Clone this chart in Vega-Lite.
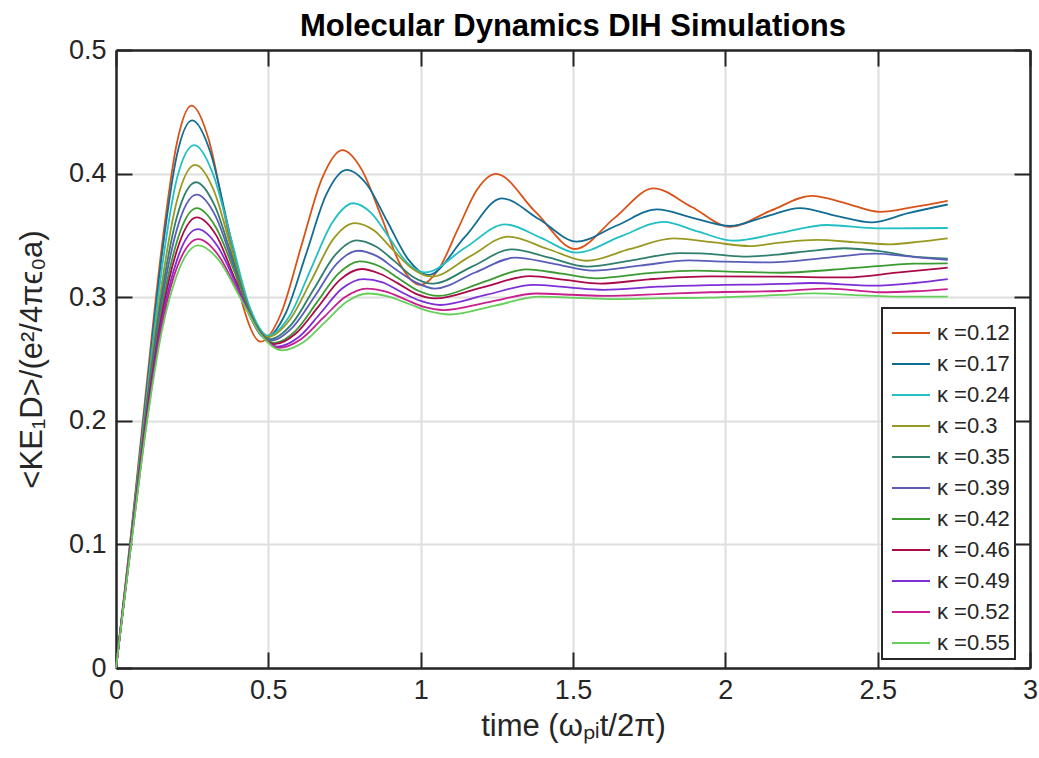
{
"$schema": "https://vega.github.io/schema/vega-lite/v6.json",
"width": 914, "height": 618,
"autosize": {"type": "none"},
"padding": {"left": 116, "top": 50, "right": 9, "bottom": 90},
"background": "#ffffff",
"title": {"text": "Molecular Dynamics DIH Simulations", "font": "Liberation Sans", "fontSize": 31, "fontWeight": "bold", "color": "#000000", "anchor": "middle", "frame": "group", "offset": -7},
"data": {"values": [
{"s":"κ =0.12","t":0,"v":0},{"s":"κ =0.12","t":0.05,"v":0.11},{"s":"κ =0.12","t":0.1,"v":0.228},{"s":"κ =0.12","t":0.15,"v":0.34},{"s":"κ =0.12","t":0.2,"v":0.425},{"s":"κ =0.12","t":0.248,"v":0.455},{"s":"κ =0.12","t":0.305,"v":0.427},{"s":"κ =0.12","t":0.362,"v":0.36},{"s":"κ =0.12","t":0.418,"v":0.292},{"s":"κ =0.12","t":0.475,"v":0.264},{"s":"κ =0.12","t":0.542,"v":0.287},{"s":"κ =0.12","t":0.609,"v":0.342},{"s":"κ =0.12","t":0.676,"v":0.396},{"s":"κ =0.12","t":0.743,"v":0.419},{"s":"κ =0.12","t":0.807,"v":0.403},{"s":"κ =0.12","t":0.871,"v":0.365},{"s":"κ =0.12","t":0.934,"v":0.326},{"s":"κ =0.12","t":0.998,"v":0.31},{"s":"κ =0.12","t":1.06,"v":0.323},{"s":"κ =0.12","t":1.122,"v":0.355},{"s":"κ =0.12","t":1.185,"v":0.387},{"s":"κ =0.12","t":1.247,"v":0.3997},{"s":"κ =0.12","t":1.377,"v":0.369},{"s":"κ =0.12","t":1.507,"v":0.339},{"s":"κ =0.12","t":1.636,"v":0.364},{"s":"κ =0.12","t":1.764,"v":0.388},{"s":"κ =0.12","t":1.89,"v":0.373},{"s":"κ =0.12","t":2.015,"v":0.357},{"s":"κ =0.12","t":2.149,"v":0.37},{"s":"κ =0.12","t":2.283,"v":0.382},{"s":"κ =0.12","t":2.395,"v":0.376},{"s":"κ =0.12","t":2.507,"v":0.369},{"s":"κ =0.12","t":2.62,"v":0.373},{"s":"κ =0.12","t":2.73,"v":0.378},
{"s":"κ =0.17","t":0,"v":0},{"s":"κ =0.17","t":0.05,"v":0.108},{"s":"κ =0.17","t":0.1,"v":0.222},{"s":"κ =0.17","t":0.15,"v":0.333},{"s":"κ =0.17","t":0.2,"v":0.415},{"s":"κ =0.17","t":0.25,"v":0.443},{"s":"κ =0.17","t":0.31,"v":0.417},{"s":"κ =0.17","t":0.37,"v":0.355},{"s":"κ =0.17","t":0.43,"v":0.293},{"s":"κ =0.17","t":0.49,"v":0.267},{"s":"κ =0.17","t":0.557,"v":0.287},{"s":"κ =0.17","t":0.624,"v":0.335},{"s":"κ =0.17","t":0.69,"v":0.383},{"s":"κ =0.17","t":0.757,"v":0.403},{"s":"κ =0.17","t":0.824,"v":0.391},{"s":"κ =0.17","t":0.891,"v":0.361},{"s":"κ =0.17","t":0.958,"v":0.331},{"s":"κ =0.17","t":1.025,"v":0.318},{"s":"κ =0.17","t":1.146,"v":0.349},{"s":"κ =0.17","t":1.266,"v":0.38},{"s":"κ =0.17","t":1.389,"v":0.363},{"s":"κ =0.17","t":1.512,"v":0.345},{"s":"κ =0.17","t":1.644,"v":0.358},{"s":"κ =0.17","t":1.775,"v":0.371},{"s":"κ =0.17","t":1.895,"v":0.364},{"s":"κ =0.17","t":2.015,"v":0.3576},{"s":"κ =0.17","t":2.13,"v":0.365},{"s":"κ =0.17","t":2.245,"v":0.372},{"s":"κ =0.17","t":2.36,"v":0.366},{"s":"κ =0.17","t":2.48,"v":0.3605},{"s":"κ =0.17","t":2.6,"v":0.368},{"s":"κ =0.17","t":2.73,"v":0.375},
{"s":"κ =0.24","t":0,"v":0},{"s":"κ =0.24","t":0.05,"v":0.107},{"s":"κ =0.24","t":0.1,"v":0.218},{"s":"κ =0.24","t":0.15,"v":0.322},{"s":"κ =0.24","t":0.2,"v":0.396},{"s":"κ =0.24","t":0.257,"v":0.423},{"s":"κ =0.24","t":0.318,"v":0.4},{"s":"κ =0.24","t":0.379,"v":0.346},{"s":"κ =0.24","t":0.439,"v":0.292},{"s":"κ =0.24","t":0.5,"v":0.269},{"s":"κ =0.24","t":0.57,"v":0.285},{"s":"κ =0.24","t":0.64,"v":0.323},{"s":"κ =0.24","t":0.709,"v":0.36},{"s":"κ =0.24","t":0.779,"v":0.376},{"s":"κ =0.24","t":0.838,"v":0.368},{"s":"κ =0.24","t":0.897,"v":0.348},{"s":"κ =0.24","t":0.955,"v":0.328},{"s":"κ =0.24","t":1.014,"v":0.32},{"s":"κ =0.24","t":1.146,"v":0.34},{"s":"κ =0.24","t":1.277,"v":0.359},{"s":"κ =0.24","t":1.395,"v":0.348},{"s":"κ =0.24","t":1.512,"v":0.336},{"s":"κ =0.24","t":1.655,"v":0.349},{"s":"κ =0.24","t":1.797,"v":0.361},{"s":"κ =0.24","t":1.912,"v":0.353},{"s":"κ =0.24","t":2.026,"v":0.3457},{"s":"κ =0.24","t":2.18,"v":0.352},{"s":"κ =0.24","t":2.333,"v":0.3584},{"s":"κ =0.24","t":2.5,"v":0.3557},{"s":"κ =0.24","t":2.62,"v":0.3558},{"s":"κ =0.24","t":2.73,"v":0.356},
{"s":"κ =0.3","t":0,"v":0},{"s":"κ =0.3","t":0.05,"v":0.106},{"s":"κ =0.3","t":0.1,"v":0.214},{"s":"κ =0.3","t":0.15,"v":0.31},{"s":"κ =0.3","t":0.2,"v":0.378},{"s":"κ =0.3","t":0.26,"v":0.407},{"s":"κ =0.3","t":0.32,"v":0.387},{"s":"κ =0.3","t":0.38,"v":0.338},{"s":"κ =0.3","t":0.44,"v":0.288},{"s":"κ =0.3","t":0.5,"v":0.268},{"s":"κ =0.3","t":0.571,"v":0.282},{"s":"κ =0.3","t":0.642,"v":0.314},{"s":"κ =0.3","t":0.713,"v":0.347},{"s":"κ =0.3","t":0.784,"v":0.36},{"s":"κ =0.3","t":0.847,"v":0.354},{"s":"κ =0.3","t":0.91,"v":0.338},{"s":"κ =0.3","t":0.973,"v":0.323},{"s":"κ =0.3","t":1.036,"v":0.3166},{"s":"κ =0.3","t":1.162,"v":0.333},{"s":"κ =0.3","t":1.288,"v":0.349},{"s":"κ =0.3","t":1.417,"v":0.339},{"s":"κ =0.3","t":1.545,"v":0.3295},{"s":"κ =0.3","t":1.688,"v":0.339},{"s":"κ =0.3","t":1.83,"v":0.3476},{"s":"κ =0.3","t":1.955,"v":0.3445},{"s":"κ =0.3","t":2.08,"v":0.3414},{"s":"κ =0.3","t":2.179,"v":0.3441},{"s":"κ =0.3","t":2.3,"v":0.3463},{"s":"κ =0.3","t":2.42,"v":0.3446},{"s":"κ =0.3","t":2.54,"v":0.3428},{"s":"κ =0.3","t":2.64,"v":0.345},{"s":"κ =0.3","t":2.73,"v":0.3476},
{"s":"κ =0.35","t":0,"v":0},{"s":"κ =0.35","t":0.05,"v":0.105},{"s":"κ =0.35","t":0.1,"v":0.211},{"s":"κ =0.35","t":0.15,"v":0.302},{"s":"κ =0.35","t":0.2,"v":0.365},{"s":"κ =0.35","t":0.263,"v":0.393},{"s":"κ =0.35","t":0.324,"v":0.374},{"s":"κ =0.35","t":0.384,"v":0.33},{"s":"κ =0.35","t":0.445,"v":0.285},{"s":"κ =0.35","t":0.505,"v":0.266},{"s":"κ =0.35","t":0.576,"v":0.278},{"s":"κ =0.35","t":0.648,"v":0.306},{"s":"κ =0.35","t":0.719,"v":0.334},{"s":"κ =0.35","t":0.79,"v":0.346},{"s":"κ =0.35","t":0.853,"v":0.341},{"s":"κ =0.35","t":0.915,"v":0.329},{"s":"κ =0.35","t":0.978,"v":0.316},{"s":"κ =0.35","t":1.04,"v":0.311},{"s":"κ =0.35","t":1.17,"v":0.325},{"s":"κ =0.35","t":1.299,"v":0.3387},{"s":"κ =0.35","t":1.422,"v":0.332},{"s":"κ =0.35","t":1.545,"v":0.3247},{"s":"κ =0.35","t":1.698,"v":0.33},{"s":"κ =0.35","t":1.85,"v":0.3357},{"s":"κ =0.35","t":1.92,"v":0.3355},{"s":"κ =0.35","t":2.06,"v":0.3328},{"s":"κ =0.35","t":2.179,"v":0.3347},{"s":"κ =0.35","t":2.28,"v":0.3375},{"s":"κ =0.35","t":2.39,"v":0.3396},{"s":"κ =0.35","t":2.5,"v":0.3375},{"s":"κ =0.35","t":2.617,"v":0.3328},{"s":"κ =0.35","t":2.73,"v":0.3312},
{"s":"κ =0.39","t":0,"v":0},{"s":"κ =0.39","t":0.05,"v":0.104},{"s":"κ =0.39","t":0.1,"v":0.208},{"s":"κ =0.39","t":0.15,"v":0.296},{"s":"κ =0.39","t":0.2,"v":0.355},{"s":"κ =0.39","t":0.265,"v":0.383},{"s":"κ =0.39","t":0.326,"v":0.366},{"s":"κ =0.39","t":0.388,"v":0.324},{"s":"κ =0.39","t":0.449,"v":0.282},{"s":"κ =0.39","t":0.51,"v":0.265},{"s":"κ =0.39","t":0.581,"v":0.276},{"s":"κ =0.39","t":0.653,"v":0.301},{"s":"κ =0.39","t":0.724,"v":0.327},{"s":"κ =0.39","t":0.795,"v":0.3376},{"s":"κ =0.39","t":0.858,"v":0.333},{"s":"κ =0.39","t":0.921,"v":0.322},{"s":"κ =0.39","t":0.984,"v":0.312},{"s":"κ =0.39","t":1.047,"v":0.307},{"s":"κ =0.39","t":1.179,"v":0.32},{"s":"κ =0.39","t":1.31,"v":0.332},{"s":"κ =0.39","t":1.438,"v":0.327},{"s":"κ =0.39","t":1.566,"v":0.3215},{"s":"κ =0.39","t":1.72,"v":0.3255},{"s":"κ =0.39","t":1.88,"v":0.3298},{"s":"κ =0.39","t":2.0,"v":0.3288},{"s":"κ =0.39","t":2.15,"v":0.3282},{"s":"κ =0.39","t":2.33,"v":0.3318},{"s":"κ =0.39","t":2.49,"v":0.3352},{"s":"κ =0.39","t":2.62,"v":0.3325},{"s":"κ =0.39","t":2.73,"v":0.3301},
{"s":"κ =0.42","t":0,"v":0},{"s":"κ =0.42","t":0.05,"v":0.104},{"s":"κ =0.42","t":0.1,"v":0.205},{"s":"κ =0.42","t":0.15,"v":0.29},{"s":"κ =0.42","t":0.2,"v":0.345},{"s":"κ =0.42","t":0.265,"v":0.372},{"s":"κ =0.42","t":0.329,"v":0.356},{"s":"κ =0.42","t":0.393,"v":0.318},{"s":"κ =0.42","t":0.456,"v":0.279},{"s":"κ =0.42","t":0.52,"v":0.263},{"s":"κ =0.42","t":0.59,"v":0.273},{"s":"κ =0.42","t":0.66,"v":0.296},{"s":"κ =0.42","t":0.73,"v":0.319},{"s":"κ =0.42","t":0.8,"v":0.329},{"s":"κ =0.42","t":0.865,"v":0.325},{"s":"κ =0.42","t":0.929,"v":0.315},{"s":"κ =0.42","t":0.994,"v":0.305},{"s":"κ =0.42","t":1.058,"v":0.301},{"s":"κ =0.42","t":1.203,"v":0.312},{"s":"κ =0.42","t":1.348,"v":0.3225},{"s":"κ =0.42","t":1.463,"v":0.319},{"s":"κ =0.42","t":1.578,"v":0.3153},{"s":"κ =0.42","t":1.75,"v":0.3195},{"s":"κ =0.42","t":1.9,"v":0.3215},{"s":"κ =0.42","t":2.05,"v":0.3205},{"s":"κ =0.42","t":2.19,"v":0.3198},{"s":"κ =0.42","t":2.35,"v":0.3222},{"s":"κ =0.42","t":2.5,"v":0.3252},{"s":"κ =0.42","t":2.617,"v":0.3271},{"s":"κ =0.42","t":2.73,"v":0.3274},
{"s":"κ =0.46","t":0,"v":0},{"s":"κ =0.46","t":0.05,"v":0.103},{"s":"κ =0.46","t":0.1,"v":0.203},{"s":"κ =0.46","t":0.15,"v":0.285},{"s":"κ =0.46","t":0.2,"v":0.338},{"s":"κ =0.46","t":0.265,"v":0.3646},{"s":"κ =0.46","t":0.329,"v":0.35},{"s":"κ =0.46","t":0.393,"v":0.313},{"s":"κ =0.46","t":0.456,"v":0.277},{"s":"κ =0.46","t":0.52,"v":0.262},{"s":"κ =0.46","t":0.592,"v":0.271},{"s":"κ =0.46","t":0.663,"v":0.292},{"s":"κ =0.46","t":0.735,"v":0.314},{"s":"κ =0.46","t":0.806,"v":0.3228},{"s":"κ =0.46","t":0.866,"v":0.319},{"s":"κ =0.46","t":0.927,"v":0.311},{"s":"κ =0.46","t":0.987,"v":0.3025},{"s":"κ =0.46","t":1.047,"v":0.299},{"s":"κ =0.46","t":1.203,"v":0.308},{"s":"κ =0.46","t":1.359,"v":0.317},{"s":"κ =0.46","t":1.474,"v":0.314},{"s":"κ =0.46","t":1.589,"v":0.311},{"s":"κ =0.46","t":1.75,"v":0.3145},{"s":"κ =0.46","t":1.95,"v":0.3168},{"s":"κ =0.46","t":2.179,"v":0.3166},{"s":"κ =0.46","t":2.398,"v":0.316},{"s":"κ =0.46","t":2.562,"v":0.3198},{"s":"κ =0.46","t":2.73,"v":0.3239},
{"s":"κ =0.49","t":0,"v":0},{"s":"κ =0.49","t":0.05,"v":0.102},{"s":"κ =0.49","t":0.1,"v":0.2},{"s":"κ =0.49","t":0.15,"v":0.28},{"s":"κ =0.49","t":0.2,"v":0.33},{"s":"κ =0.49","t":0.268,"v":0.355},{"s":"κ =0.49","t":0.334,"v":0.341},{"s":"κ =0.49","t":0.399,"v":0.308},{"s":"κ =0.49","t":0.465,"v":0.274},{"s":"κ =0.49","t":0.53,"v":0.26},{"s":"κ =0.49","t":0.601,"v":0.268},{"s":"κ =0.49","t":0.671,"v":0.287},{"s":"κ =0.49","t":0.742,"v":0.307},{"s":"κ =0.49","t":0.812,"v":0.3147},{"s":"κ =0.49","t":0.875,"v":0.312},{"s":"κ =0.49","t":0.938,"v":0.304},{"s":"κ =0.49","t":1.0,"v":0.297},{"s":"κ =0.49","t":1.063,"v":0.2937},{"s":"κ =0.49","t":1.217,"v":0.302},{"s":"κ =0.49","t":1.37,"v":0.31},{"s":"κ =0.49","t":1.485,"v":0.308},{"s":"κ =0.49","t":1.6,"v":0.306},{"s":"κ =0.49","t":1.78,"v":0.3085},{"s":"κ =0.49","t":1.95,"v":0.3098},{"s":"κ =0.49","t":2.179,"v":0.3107},{"s":"κ =0.49","t":2.28,"v":0.3115},{"s":"κ =0.49","t":2.486,"v":0.3093},{"s":"κ =0.49","t":2.62,"v":0.3115},{"s":"κ =0.49","t":2.73,"v":0.3147},
{"s":"κ =0.52","t":0,"v":0},{"s":"κ =0.52","t":0.05,"v":0.101},{"s":"κ =0.52","t":0.1,"v":0.198},{"s":"κ =0.52","t":0.15,"v":0.276},{"s":"κ =0.52","t":0.2,"v":0.324},{"s":"κ =0.52","t":0.27,"v":0.347},{"s":"κ =0.52","t":0.336,"v":0.334},{"s":"κ =0.52","t":0.403,"v":0.303},{"s":"κ =0.52","t":0.469,"v":0.272},{"s":"κ =0.52","t":0.535,"v":0.259},{"s":"κ =0.52","t":0.607,"v":0.266},{"s":"κ =0.52","t":0.679,"v":0.283},{"s":"κ =0.52","t":0.751,"v":0.3},{"s":"κ =0.52","t":0.823,"v":0.307},{"s":"κ =0.52","t":0.886,"v":0.3045},{"s":"κ =0.52","t":0.949,"v":0.2983},{"s":"κ =0.52","t":1.011,"v":0.2921},{"s":"κ =0.52","t":1.074,"v":0.2896},{"s":"κ =0.52","t":1.228,"v":0.2963},{"s":"κ =0.52","t":1.381,"v":0.303},{"s":"κ =0.52","t":1.496,"v":0.302},{"s":"κ =0.52","t":1.61,"v":0.301},{"s":"κ =0.52","t":1.78,"v":0.3025},{"s":"κ =0.52","t":1.95,"v":0.304},{"s":"κ =0.52","t":2.179,"v":0.305},{"s":"κ =0.52","t":2.343,"v":0.3069},{"s":"κ =0.52","t":2.508,"v":0.304},{"s":"κ =0.52","t":2.62,"v":0.3048},{"s":"κ =0.52","t":2.73,"v":0.3066},
{"s":"κ =0.55","t":0,"v":0},{"s":"κ =0.55","t":0.05,"v":0.1},{"s":"κ =0.55","t":0.1,"v":0.196},{"s":"κ =0.55","t":0.15,"v":0.272},{"s":"κ =0.55","t":0.2,"v":0.318},{"s":"κ =0.55","t":0.27,"v":0.342},{"s":"κ =0.55","t":0.339,"v":0.3295},{"s":"κ =0.55","t":0.408,"v":0.2995},{"s":"κ =0.55","t":0.476,"v":0.2695},{"s":"κ =0.55","t":0.545,"v":0.257},{"s":"κ =0.55","t":0.616,"v":0.2637},{"s":"κ =0.55","t":0.687,"v":0.28},{"s":"κ =0.55","t":0.757,"v":0.2963},{"s":"κ =0.55","t":0.828,"v":0.303},{"s":"κ =0.55","t":0.895,"v":0.3005},{"s":"κ =0.55","t":0.962,"v":0.2945},{"s":"κ =0.55","t":1.029,"v":0.2885},{"s":"κ =0.55","t":1.096,"v":0.286},{"s":"κ =0.55","t":1.244,"v":0.2932},{"s":"κ =0.55","t":1.392,"v":0.3004},{"s":"κ =0.55","t":1.512,"v":0.2995},{"s":"κ =0.55","t":1.632,"v":0.2985},{"s":"κ =0.55","t":1.8,"v":0.2992},{"s":"κ =0.55","t":1.95,"v":0.2996},{"s":"κ =0.55","t":2.179,"v":0.3018},{"s":"κ =0.55","t":2.289,"v":0.3031},{"s":"κ =0.55","t":2.45,"v":0.3015},{"s":"κ =0.55","t":2.562,"v":0.3004},{"s":"κ =0.55","t":2.73,"v":0.3004}
]},
"layer": [
{
"mark": {"type": "line", "interpolate": "monotone", "strokeWidth": 1.8},
"encoding": {
"x": {"field": "t", "type": "quantitative", "scale": {"domain": [0, 3], "nice": false, "zero": false},
 "axis": {"orient": "bottom", "values": [0, 0.5, 1, 1.5, 2, 2.5, 3], "format": "~g", "grid": true, "labelFlush": false, "title": "time (ωₚᵢt/2π)", "labelPadding": 25, "titlePadding": 8}},
"y": {"field": "v", "type": "quantitative", "scale": {"domain": [0, 0.5], "nice": false, "zero": false},
 "axis": {"orient": "left", "values": [0, 0.1, 0.2, 0.3, 0.4, 0.5], "format": "~g", "grid": true, "labelFlush": false, "title": "<KE₁D>/(e²/4πϵ₀a)", "labelPadding": 26, "titlePadding": 20}},
"color": {"field": "s", "type": "nominal",
 "scale": {"domain": ["κ =0.12","κ =0.17","κ =0.24","κ =0.3","κ =0.35","κ =0.39","κ =0.42","κ =0.46","κ =0.49","κ =0.52","κ =0.55"],
  "range": ["#d95319","#126d94","#22bfc4","#999922","#2f7f6c","#5a5db8","#3b9b30","#aa0a4a","#7d2fd6","#c81f8c","#64d05a"]},
 "legend": {"orient": "none", "legendX": 766, "legendY": 258, "title": null, "symbolType": "stroke", "symbolSize": 1444, "symbolStrokeWidth": 2, "labelFont": "Liberation Sans", "labelFontSize": 22, "labelColor": "#262626", "strokeColor": "#262626", "fillColor": "#ffffff", "padding": 5, "rowPadding": -0.5, "labelOffset": 6, "symbolOffset": 4}}
}
},
{
"mark": {"type": "point", "opacity": 0},
"encoding": {
"x": {"field": "t", "type": "quantitative", "scale": {"domain": [0, 3], "nice": false, "zero": false},
 "axis": {"orient": "top", "values": [0, 0.5, 1, 1.5, 2, 2.5, 3], "labels": false, "grid": false, "title": null}},
"y": {"field": "v", "type": "quantitative", "scale": {"domain": [0, 0.5], "nice": false, "zero": false},
 "axis": {"orient": "right", "values": [0, 0.1, 0.2, 0.3, 0.4, 0.5], "labels": false, "grid": false, "title": null}}
}
}
],
"resolve": {"axis": {"x": "independent", "y": "independent"}},
"config": {
"font": "Liberation Sans",
"view": {"stroke": null},
"axis": {"labelFont": "Liberation Sans", "labelFontSize": 27, "labelColor": "#262626", "titleFont": "Liberation Sans", "titleFontSize": 31, "titleFontWeight": "normal", "titleColor": "#262626", "domainColor": "#262626", "domainWidth": 2.5, "tickColor": "#262626", "tickWidth": 2, "tickSize": -16, "gridColor": "#dedede", "gridWidth": 2},
"legend": {"strokeWidth": 2}
}
}
